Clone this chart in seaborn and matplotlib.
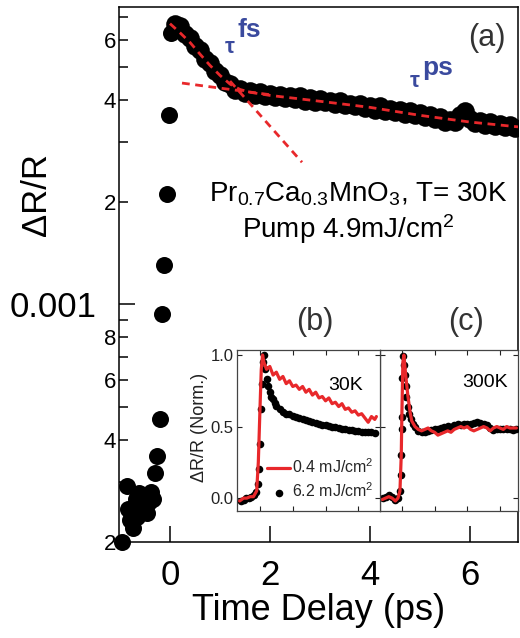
import numpy as np
import pandas as pd
import matplotlib
matplotlib.use("Agg")
import matplotlib.pyplot as plt
import seaborn as sns
from matplotlib.ticker import FixedLocator, FixedFormatter

# ---------------- main transient, Pr0.7Ca0.3MnO3 at 30 K (ΔR/R in units of 1e-3) ----------------
rise_t = [-0.96, -0.87, -0.84, -0.80, -0.76, -0.74, -0.69, -0.66, -0.62, -0.58, -0.54, -0.50,
          -0.46, -0.42, -0.38, -0.34, -0.31, -0.27, -0.21, -0.17, -0.12, -0.06, -0.02, 0.02]
rise_dr = [0.200, 0.292, 0.250, 0.232, 0.242, 0.220, 0.268, 0.237, 0.278, 0.246, 0.270, 0.255,
           0.243, 0.262, 0.280, 0.268, 0.320, 0.357, 0.460, 0.940, 1.31, 2.12, 3.60, 6.28]

decay_t = np.linspace(0.1, 6.9, 69)
decay_dr = [6.70, 6.58, 6.26, 6.09, 5.74, 5.59, 5.26, 5.13, 4.85, 4.73,
            4.51, 4.46, 4.28, 4.29, 4.18, 4.24, 4.14, 4.21, 4.10, 4.16,
            4.09, 4.14, 4.04, 4.10, 4.01, 4.10, 3.98, 4.04, 3.95, 4.01,
            3.94, 3.98, 3.88, 3.96, 3.85, 3.90, 3.84, 3.88, 3.78, 3.84,
            3.74, 3.83, 3.71, 3.77, 3.68, 3.74, 3.64, 3.70, 3.60, 3.66,
            3.56, 3.61, 3.51, 3.55, 3.45, 3.48, 3.44, 3.60, 3.70, 3.52,
            3.41, 3.46, 3.38, 3.43, 3.35, 3.40, 3.32, 3.38, 3.30]

# biexponential fit and its two components
fit_t = [0.0, 0.2, 0.4, 0.6, 0.8, 1.0, 1.2, 1.4, 1.6, 2.0, 2.5, 3.0, 4.0, 5.0, 6.0, 6.96]
fit_dr = [6.70, 6.30, 5.90, 5.45, 5.05, 4.72, 4.45, 4.29, 4.21, 4.12, 4.04, 3.96, 3.80, 3.60, 3.44, 3.33]
fast_t = [1.2, 2.64]
fast_dr = [4.54, 2.62]
slow_t = [0.24, 2.0]
slow_dr = [4.48, 4.14]

y_minor_ticks = [2e-4, 3e-4, 4e-4, 5e-4, 6e-4, 7e-4, 8e-4, 9e-4, 2e-3, 3e-3, 4e-3, 5e-3, 6e-3, 7e-3]
y_minor_labels = ["2", "", "4", "", "6", "", "8", "", "2", "", "4", "", "6", ""]
x_ticks = [0, 2, 4, 6]

# ---------------- insets: normalised ΔR/R ----------------
b_dot_t = [-0.58, -0.50, -0.42, -0.34, -0.26, -0.18, -0.12, -0.06, -0.03, 0.0, 0.02, 0.05, 0.08, 0.12,
           0.15, 0.2, 0.25, 0.3, 0.35, 0.4, 0.45, 0.5, 0.6, 0.7, 0.8, 0.9, 1.0, 1.1, 1.2, 1.3, 1.4,
           1.5, 1.6, 1.7, 1.8, 1.9, 2.0, 2.1, 2.2, 2.3, 2.4, 2.5, 2.6, 2.7, 2.8, 2.9, 3.0, 3.1, 3.2,
           3.3, 3.4, 3.5]
b_dot_v = [-0.02, -0.01, 0.0, 0.0, 0.01, 0.02, 0.04, 0.10, 0.20, 0.38, 0.62, 0.80, 0.95, 1.0,
           0.90, 0.83, 0.78, 0.74, 0.71, 0.69, 0.665, 0.645, 0.625, 0.605, 0.59, 0.585, 0.575, 0.565,
           0.56, 0.55, 0.545, 0.54, 0.53, 0.525, 0.515, 0.51, 0.51, 0.505, 0.50, 0.495, 0.49, 0.485,
           0.48, 0.475, 0.475, 0.47, 0.47, 0.465, 0.465, 0.46, 0.46, 0.455]
b_line_t = [-0.62, -0.5, -0.4, -0.3, -0.2, -0.15, -0.1, -0.05, 0.0, 0.04, 0.08, 0.12, 0.2, 0.3, 0.4,
            0.5, 0.6, 0.7, 0.8, 0.9, 1.0, 1.1, 1.2, 1.3, 1.4, 1.5, 1.6, 1.7, 1.8, 1.9, 2.0, 2.1, 2.2,
            2.3, 2.4, 2.5, 2.6, 2.7, 2.8, 2.9, 3.0, 3.1, 3.2, 3.3, 3.4, 3.5, 3.55]
b_line_v = [-0.02, 0.0, 0.0, 0.01, 0.01, 0.03, 0.05, 0.25, 0.62, 0.90, 1.0, 0.95, 0.90, 0.92, 0.86,
            0.88, 0.83, 0.85, 0.80, 0.82, 0.78, 0.79, 0.76, 0.78, 0.74, 0.76, 0.72, 0.74, 0.70, 0.71,
            0.68, 0.70, 0.66, 0.67, 0.64, 0.66, 0.62, 0.63, 0.60, 0.61, 0.58, 0.59, 0.56, 0.53, 0.57,
            0.55, 0.57]

c_dot_t = [-0.58, -0.5, -0.4, -0.3, -0.2, -0.12, -0.05, -0.03, -0.02, -0.01, 0.0, 0.01, 0.03, 0.06,
           0.08, 0.11, 0.14, 0.18, 0.22, 0.27, 0.33, 0.4, 0.5, 0.6, 0.7, 0.8, 0.9, 1.0, 1.1, 1.2, 1.3,
           1.4, 1.5, 1.6, 1.7, 1.8, 1.9, 2.0, 2.1, 2.2, 2.3, 2.4, 2.5, 2.6, 2.7, 2.8, 2.9, 3.0, 3.1,
           3.2, 3.3, 3.4, 3.5]
c_dot_v = [0.0, 0.01, 0.02, 0.01, -0.01, 0.0, 0.05, 0.16, 0.30, 0.48, 0.57, 0.84, 0.99, 0.93,
           0.86, 0.78, 0.71, 0.64, 0.59, 0.55, 0.52, 0.50, 0.47, 0.46, 0.465, 0.47, 0.475, 0.48,
           0.485, 0.49, 0.50, 0.505, 0.50, 0.51, 0.515, 0.51, 0.52, 0.515, 0.52, 0.525, 0.53, 0.525,
           0.52, 0.51, 0.49, 0.475, 0.48, 0.485, 0.48, 0.48, 0.48, 0.475, 0.48]
c_line_t = [-0.6, -0.5, -0.4, -0.3, -0.2, -0.12, -0.06, -0.02, 0.0, 0.03, 0.06, 0.12, 0.18, 0.25,
            0.3, 0.4, 0.5, 0.6, 0.7, 0.8, 0.9, 1.0, 1.1, 1.2, 1.3, 1.4, 1.5, 1.6, 1.7, 1.8, 1.9, 2.0,
            2.1, 2.2, 2.3, 2.4, 2.5, 2.6, 2.7, 2.8, 2.9, 3.0, 3.1, 3.2, 3.3, 3.4, 3.5]
c_line_v = [-0.01, 0.0, 0.01, 0.0, -0.02, 0.0, 0.05, 0.30, 0.60, 0.95, 1.0, 0.85, 0.72, 0.60,
            0.54, 0.50, 0.48, 0.47, 0.48, 0.49, 0.47, 0.46, 0.44, 0.45, 0.46, 0.47, 0.46, 0.48, 0.49,
            0.50, 0.49, 0.50, 0.48, 0.47, 0.48, 0.49, 0.50, 0.49, 0.47, 0.49, 0.50, 0.49, 0.48, 0.50,
            0.49, 0.49, 0.49]
inset_x_ticks = [0, 1, 2, 3]
inset_y_ticks = [0.0, 0.5, 1.0]
inset_y_labels = ["0.0", "0.5", "1.0"]

RED = "#e8282b"
BLUE = "#3a4a9e"
GREY = "#333333"

sns.set_theme(style="ticks")
plt.rcParams["font.family"] = ["Liberation Sans", "DejaVu Sans"]
plt.rcParams["mathtext.fontset"] = "custom"
plt.rcParams["mathtext.rm"] = "Liberation Sans"
plt.rcParams["mathtext.it"] = "Liberation Sans:italic"
plt.rcParams["mathtext.bf"] = "Liberation Sans:bold"
plt.rcParams["mathtext.default"] = "regular"

W, H = 520, 638
fig = plt.figure(figsize=(W / 100, H / 100), dpi=100)


def fx(px):
    return px / W


def fy(py):
    return 1 - py / H


ax = fig.add_axes([fx(119), fy(542), fx(518) - fx(119), fy(7) - fy(542)])
ax.set_yscale("log")

sns.scatterplot(x=rise_t, y=np.array(rise_dr) * 1e-3, ax=ax, s=150, color="black",
                linewidth=0, clip_on=False, zorder=3)
sns.scatterplot(x=decay_t, y=np.array(decay_dr) * 1e-3, ax=ax, s=180, color="black",
                linewidth=0, zorder=3)

dash = (0, (2.8, 2.0))
for tt, vv in ((fit_t, fit_dr), (fast_t, fast_dr), (slow_t, slow_dr)):
    sns.lineplot(x=tt, y=np.array(vv) * 1e-3, ax=ax, color=RED, lw=2.0, linestyle=dash,
                 estimator=None, sort=False, zorder=4)

ax.set_xlim(-1.02, 6.96)
ax.set_ylim(2e-4, 7.5e-3)
ax.xaxis.set_major_locator(FixedLocator(x_ticks))
ax.yaxis.set_major_locator(FixedLocator([1e-3]))
ax.yaxis.set_major_formatter(FixedFormatter(["0.001"]))
ax.yaxis.set_minor_locator(FixedLocator(y_minor_ticks))
ax.yaxis.set_minor_formatter(FixedFormatter(y_minor_labels))
ax.xaxis.set_minor_locator(FixedLocator([]))

for sp in ax.spines.values():
    sp.set_linewidth(1.1)
    sp.set_color("black")
ax.tick_params(axis="x", which="major", direction="in", length=11.5, width=1.1,
               labelsize=25, pad=12, colors="black")
ax.tick_params(axis="y", which="major", direction="in", length=11.5, width=1.1,
               labelsize=25, pad=16, colors="black")
ax.tick_params(axis="y", which="minor", direction="in", length=6.5, width=1.1,
               labelsize=16, pad=2, colors="black")

ax.set_xlabel("Time Delay (ps)", fontsize=26, labelpad=1, color="black")
ax.set_ylabel("ΔR/R", fontsize=25, color="black")
ax.yaxis.set_label_coords(-0.165, 0.649)

# annotations in the main panel
fig.text(fx(358), fy(202), "Pr$_{0.7}$Ca$_{0.3}$MnO$_3$, T= 30K", fontsize=20,
         ha="center", va="baseline", color="black")
fig.text(fx(348), fy(238), "Pump 4.9mJ/cm$^2$", fontsize=20, ha="center", va="baseline",
         color="black")
fig.text(fx(487), fy(38), "(a)", fontsize=22, ha="center", va="center", color=GREY)
fig.text(fx(315), fy(322), "(b)", fontsize=22, ha="center", va="center", color=GREY)
fig.text(fx(466), fy(322), "(c)", fontsize=22, ha="center", va="center", color=GREY)
fig.text(fx(225), fy(53), "τ", fontsize=16, fontweight="bold", ha="left", va="baseline", color=BLUE)
fig.text(fx(238), fy(37), "fs", fontsize=19, fontweight="bold", ha="left", va="baseline", color=BLUE)
fig.text(fx(410), fy(87), "τ", fontsize=16, fontweight="bold", ha="left", va="baseline", color=BLUE)
fig.text(fx(422), fy(75), "ps", fontsize=19, fontweight="bold", ha="left", va="baseline", color=BLUE)

# ---------------- insets ----------------
axc = fig.add_axes([fx(380), fy(511), fx(518) - fx(380), fy(350) - fy(511)], zorder=5)
axb = fig.add_axes([fx(237), fy(511), fx(380) - fx(237), fy(350) - fy(511)], zorder=6)

sns.scatterplot(x=b_dot_t, y=b_dot_v, ax=axb, s=30, color="black", linewidth=0,
                label="6.2 mJ/cm$^2$", zorder=3)
sns.lineplot(x=b_line_t, y=b_line_v, ax=axb, color=RED, lw=2.3, estimator=None, sort=False,
             label="0.4 mJ/cm$^2$", zorder=4)
sns.scatterplot(x=c_dot_t, y=c_dot_v, ax=axc, s=30, color="black", linewidth=0, zorder=3)
sns.lineplot(x=c_line_t, y=c_line_v, ax=axc, color=RED, lw=2.3, estimator=None, sort=False,
             zorder=4)

for a in (axb, axc):
    a.set_facecolor("white")
    a.set_xlim(-0.7, 3.66)
    a.set_ylim(-0.09, 1.035)
    a.set_xticks(inset_x_ticks)
    a.set_xticklabels([])
    a.set_yticks(inset_y_ticks)
    a.tick_params(direction="in", top=True, right=True, length=3.5, width=0.8,
                  labelsize=12, pad=2.5, colors="#222222")
    for sp in a.spines.values():
        sp.set_linewidth(0.9)
        sp.set_color("#444444")
    a.set_xlabel("")
    a.set_ylabel("")
axc.set_xlim(-0.67, 3.55)
axb.set_yticklabels(inset_y_labels)
axc.tick_params(labelleft=False)

axb.set_ylabel("ΔR/R (Norm.)", fontsize=13, color="#222222")
axb.yaxis.set_label_coords(-0.2, 0.52)

axb.text(0.76, 0.78, "30K", transform=axb.transAxes, fontsize=14, ha="center", va="center",
         color="black")
axc.text(0.76, 0.80, "300K", transform=axc.transAxes, fontsize=14, ha="center", va="center",
         color="black")

handles, labels = axb.get_legend_handles_labels()
order = [labels.index("0.4 mJ/cm$^2$"), labels.index("6.2 mJ/cm$^2$")]
leg = axb.legend([handles[i] for i in order], [labels[i] for i in order], loc="lower left",
                 bbox_to_anchor=(0.19, 0.05), frameon=False, fontsize=11.5, handlelength=1.4,
                 handletextpad=0.15, labelspacing=0.3, borderpad=0.2, borderaxespad=0.0)
leg.set_zorder(10)

fig.savefig("out.png", dpi=100)
